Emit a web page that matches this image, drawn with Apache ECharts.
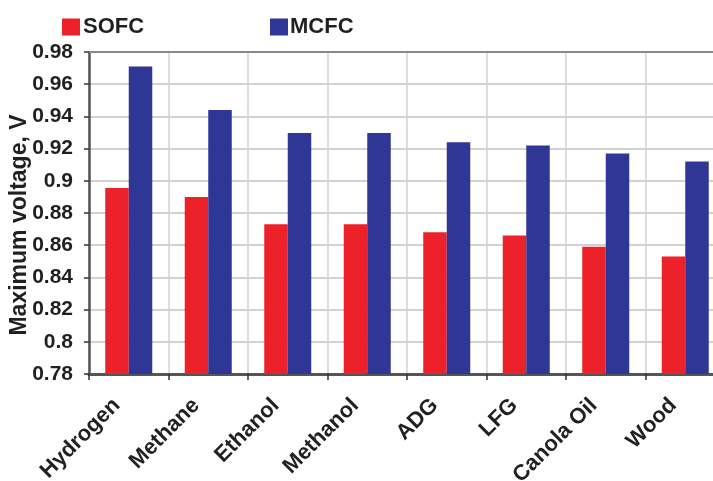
<!DOCTYPE html>
<html>
<head>
<meta charset="utf-8">
<script src="https://cdn.jsdelivr.net/npm/echarts@6/dist/echarts.min.js"></script>
<style>html,body{margin:0;padding:0;background:#fff}#c{width:713px;height:481px}</style>
</head>
<body>
<div id="c"></div>
<script>
var categories = ['Hydrogen', 'Methane', 'Ethanol', 'Methanol', 'ADG', 'LFG', 'Canola Oil', 'Wood'];
var sofc = [0.8955, 0.890, 0.873, 0.873, 0.868, 0.866, 0.859, 0.853];
var mcfc = [0.971, 0.944, 0.9297, 0.9297, 0.924, 0.922, 0.917, 0.912];
var yTicks = { min: 0.78, max: 0.98, interval: 0.02 };

var chart = echarts.init(document.getElementById('c'));
var font = 'Liberation Sans, Arial, sans-serif';
chart.setOption({
  animation: false,
  legend: [
    { data: ['SOFC'], left: 62, top: 16, padding: 0, itemWidth: 18, itemHeight: 17, icon: 'rect',
      textStyle: { fontFamily: font, fontWeight: 'bold', fontSize: 22, color: '#231f20', padding: [0,0,0,-2] } },
    { data: ['MCFC'], left: 270, top: 16, padding: 0, itemWidth: 18, itemHeight: 17, icon: 'rect',
      textStyle: { fontFamily: font, fontWeight: 'bold', fontSize: 22, color: '#231f20', padding: [0,0,0,-3] } }
  ],
  grid: { left: 89, top: 52, width: 636, height: 322, containLabel: false, outerBoundsMode: 'none' },
  xAxis: [{
    type: 'category',
    data: categories,
    axisLine: { lineStyle: { color: '#555', width: 3 } },
    axisTick: { show: true, length: 6, lineStyle: { color: '#333', width: 1.5 } },
    axisLabel: { rotate: 45, interval: 0, margin: 16, padding: [0, 17, 0, 0], fontFamily: font, fontWeight: 'bold', fontSize: 22, color: '#231f20' },
    splitLine: { show: true, lineStyle: { color: '#d2d2d2', width: 1.5 } }
  }, {
    type: 'category',
    position: 'top',
    data: categories,
    axisLine: { show: true, lineStyle: { color: '#888', width: 2 } },
    axisTick: { show: false },
    axisLabel: { show: false }
  }],
  yAxis: {
    type: 'value',
    min: yTicks.min, max: yTicks.max, interval: yTicks.interval,
    name: 'Maximum voltage, V',
    nameLocation: 'middle',
    nameGap: 58,
    nameMoveOverlap: false,
    nameTextStyle: { fontFamily: font, fontWeight: 'bold', fontSize: 23, color: '#231f20', padding: [0, 24, 0, 0] },
    axisLine: { show: true, lineStyle: { color: '#555', width: 2.5 } },
    axisTick: { show: true, length: 5, lineStyle: { color: '#333', width: 1.5 } },
    axisLabel: { margin: 16, fontFamily: font, fontWeight: 'bold', fontSize: 21, color: '#231f20',
      formatter: function (v) { return String(parseFloat(v.toFixed(2))); } },
    splitLine: { show: true, lineStyle: { color: '#d2d2d2', width: 2 } }
  },
  series: [
    { name: 'SOFC', type: 'bar', data: sofc, barWidth: 23.5, barGap: '0%', itemStyle: { color: '#ed2129' } },
    { name: 'MCFC', type: 'bar', data: mcfc, barWidth: 23.5, barGap: '0%', itemStyle: { color: '#2e3696' } }
  ]
});
</script>
</body>
</html>
